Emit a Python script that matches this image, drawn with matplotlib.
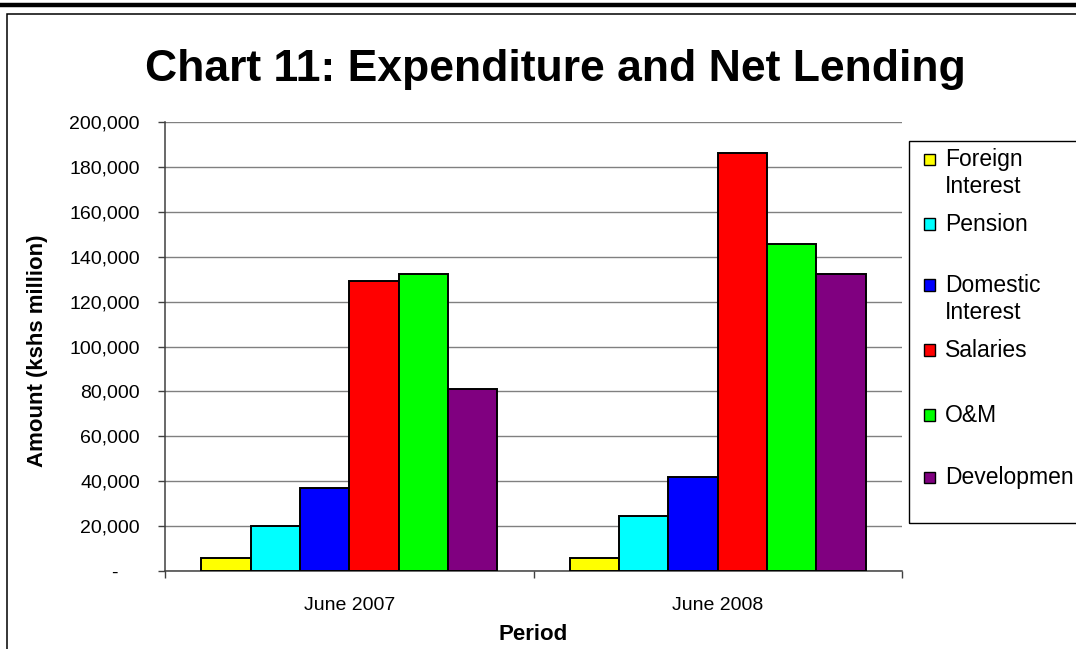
import matplotlib
matplotlib.use("Agg")
import matplotlib.pyplot as plt
from matplotlib.patches import Rectangle
from matplotlib.lines import Line2D
from matplotlib.ticker import FuncFormatter

periods = ["June 2007", "June 2008"]
series_names = ["Foreign\nInterest", "Pension", "Domestic\nInterest", "Salaries", "O&M", "Developmen"]
series_colors = ["#FFFF00", "#00FFFF", "#0000FF", "#FF0000", "#00FF00", "#800080"]
foreign_interest = [5800, 5800]
pension = [20000, 24500]
domestic_interest = [37000, 41800]
salaries = [129000, 186000]
o_and_m = [132300, 145700]
development = [81000, 132300]
series_values = [foreign_interest, pension, domestic_interest, salaries, o_and_m, development]

W, H = 1076, 649
plt.rcParams['font.family'] = ['Liberation Sans', 'DejaVu Sans']

fig = plt.figure(figsize=(W / 100, H / 100), dpi=100)


def fx(px):
    return px / W


def fy(py):
    return 1 - py / H


# page decorations: thick rule at top and chart frame
fig.add_artist(Line2D([0, 1], [fy(5), fy(5)], color="black", lw=3.2))
fig.add_artist(Rectangle((fx(7), fy(700)), fx(1200), fy(14) - fy(700), fill=False,
                         edgecolor="black", lw=1.1))

ax = fig.add_axes([fx(165), fy(571), fx(902) - fx(165), fy(122) - fy(571)])

n = len(series_values)
group_w = 0.803
bar_w = group_w / n
for i, (vals, col) in enumerate(zip(series_values, series_colors)):
    xs = [p - group_w / 2 + bar_w * (i + 0.5) for p in range(len(periods))]
    ax.bar(xs, vals, width=bar_w, color=col, edgecolor="black", linewidth=1.4, zorder=3)

ax.set_xlim(-0.5, len(periods) - 0.5)
ax.set_ylim(0, 200000)
ax.set_yticks(range(0, 200001, 20000))
ax.yaxis.set_major_formatter(FuncFormatter(lambda v, p: "-    " if v == 0 else f"{int(v):,}"))
ax.grid(axis="y", color="#808080", lw=1.0, zorder=0)
ax.set_axisbelow(True)

ax.set_xticks(range(len(periods)))
ax.set_xticklabels(periods)
ax.set_xticks([-0.5 + k for k in range(len(periods) + 1)], minor=True)
ax.tick_params(axis="x", which="major", length=0, pad=19, labelsize=14)
ax.tick_params(axis="x", which="minor", length=5, width=1, color="#404040", direction="out")
ax.tick_params(axis="y", length=5, width=1, color="#404040", pad=13, labelsize=14)

for s in ["top", "right"]:
    ax.spines[s].set_visible(False)
for s in ["left", "bottom"]:
    ax.spines[s].set_color("#404040")
    ax.spines[s].set_linewidth(1.1)

fig.text(fx(555), fy(70), "Chart 11: Expenditure and Net Lending", ha="center", va="center",
         fontsize=32, fontweight="bold")
fig.text(fx(38), fy(351), "Amount (kshs million)", rotation=90, ha="center", va="center",
         fontsize=16, fontweight="bold")
fig.text(fx(533), fy(634), "Period", ha="center", va="center", fontsize=16, fontweight="bold")

# legend box
fig.add_artist(Rectangle((fx(909), fy(523)), fx(300), fy(141) - fy(523), fill=False,
                         edgecolor="black", lw=1.0))
legend_y = [159, 224, 285, 350, 415, 477]
for name, col, yy in zip(series_names, series_colors, legend_y):
    fig.add_artist(Rectangle((fx(924), fy(yy + 5.5)), fx(11), fy(yy - 5.5) - fy(yy + 5.5),
                             facecolor=col, edgecolor="black", lw=1.0))
    fig.text(fx(945), fy(yy - 11), name, ha="left", va="top", fontsize=16.5, linespacing=1.22)

fig.savefig("out.png", dpi=100)
